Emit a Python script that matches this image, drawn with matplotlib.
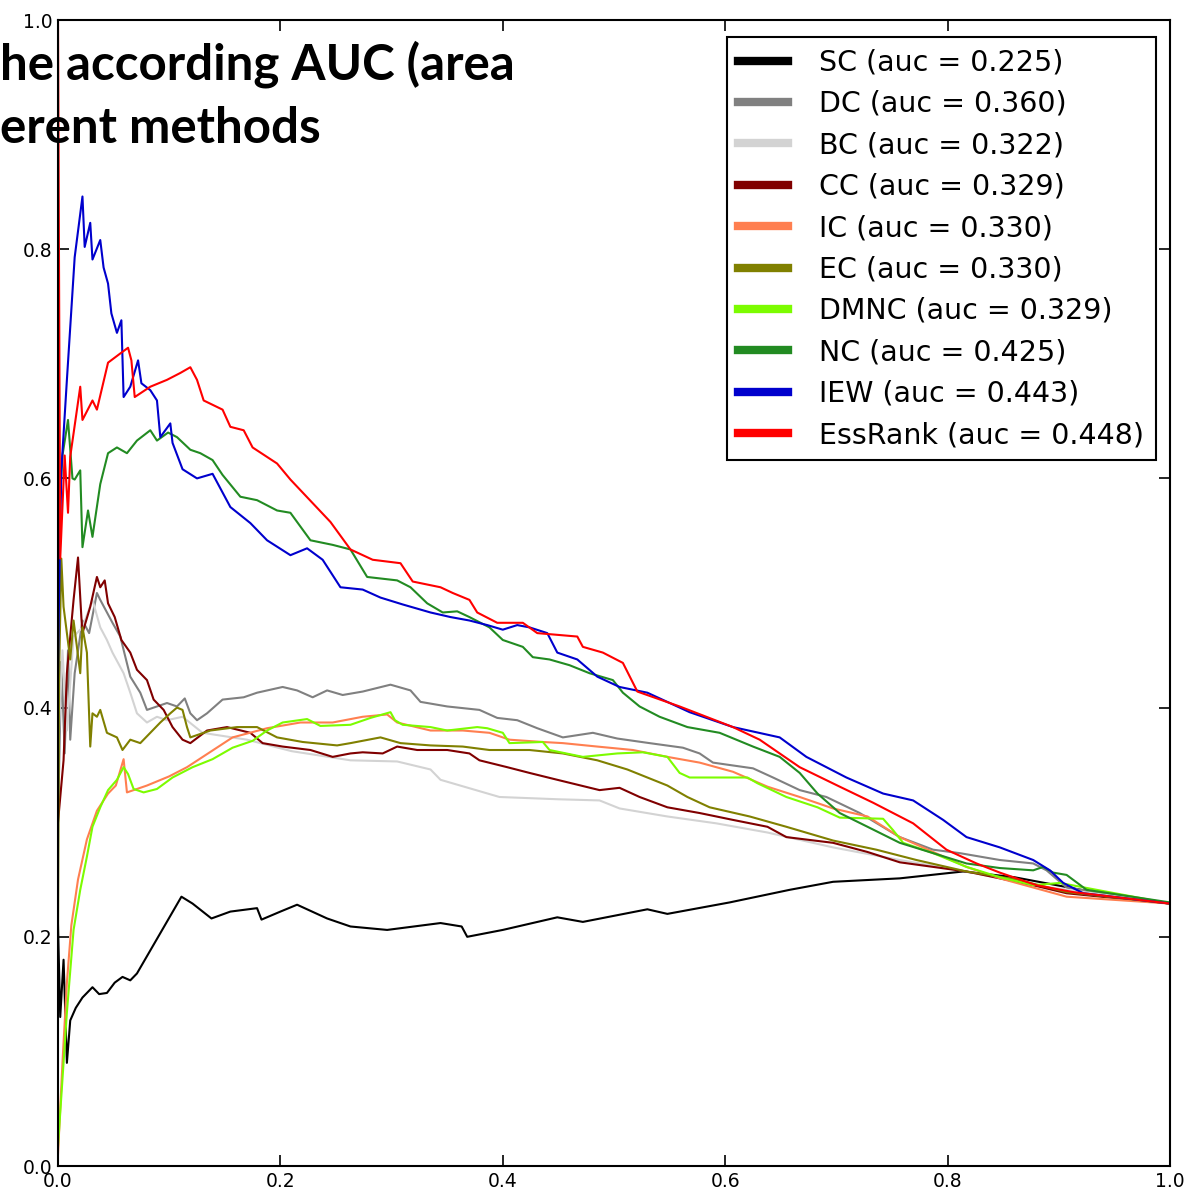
import matplotlib
matplotlib.use('Agg')
import matplotlib.pyplot as plt

plt.rcParams['font.family'] = 'DejaVu Sans'

# precision-recall curves
sc_x = [0.0, 0.002, 0.005, 0.008, 0.011, 0.016, 0.022, 0.031, 0.037, 0.044, 0.051, 0.058, 0.065, 0.071,
        0.111, 0.121, 0.138, 0.155, 0.179, 0.183, 0.200, 0.215, 0.242, 0.263, 0.296, 0.344, 0.363, 0.368,
        0.400, 0.449, 0.472, 0.530, 0.548, 0.604, 0.658, 0.697, 0.757, 0.814, 0.860, 0.920, 1.0]
sc_y = [0.21, 0.13, 0.18, 0.09, 0.127, 0.138, 0.147, 0.156, 0.150, 0.151, 0.160, 0.165, 0.162, 0.168,
        0.235, 0.229, 0.216, 0.222, 0.225, 0.215, 0.222, 0.228, 0.216, 0.209, 0.206, 0.212, 0.209, 0.200,
        0.206, 0.217, 0.213, 0.224, 0.220, 0.230, 0.241, 0.248, 0.251, 0.257, 0.252, 0.241, 0.229]

dc_x = [0.0, 0.003, 0.006, 0.009, 0.011, 0.015, 0.022, 0.028, 0.035, 0.038, 0.049, 0.056, 0.065, 0.074,
        0.080, 0.089, 0.098, 0.107, 0.114, 0.119, 0.125, 0.134, 0.148, 0.167, 0.179, 0.202, 0.215, 0.229,
        0.242, 0.256, 0.274, 0.299, 0.317, 0.326, 0.350, 0.379, 0.395, 0.413, 0.431, 0.454, 0.481, 0.503,
        0.532, 0.562, 0.577, 0.589, 0.625, 0.643, 0.667, 0.691, 0.721, 0.757, 0.787, 0.811, 0.847, 0.877,
        0.889, 0.907, 1.0]
dc_y = [0.30, 0.44, 0.36, 0.45, 0.372, 0.43, 0.476, 0.465, 0.500, 0.494, 0.474, 0.462, 0.427, 0.413,
        0.398, 0.401, 0.404, 0.401, 0.408, 0.395, 0.389, 0.395, 0.407, 0.409, 0.413, 0.418, 0.415, 0.409,
        0.415, 0.411, 0.414, 0.420, 0.415, 0.405, 0.401, 0.398, 0.391, 0.389, 0.382, 0.374, 0.378, 0.373,
        0.369, 0.365, 0.360, 0.352, 0.347, 0.339, 0.328, 0.322, 0.308, 0.287, 0.276, 0.273, 0.267, 0.264,
        0.258, 0.243, 0.229]

bc_x = [0.0, 0.004, 0.008, 0.014, 0.022, 0.031, 0.038, 0.044, 0.049, 0.059, 0.065, 0.071, 0.080, 0.089,
        0.098, 0.112, 0.130, 0.170, 0.210, 0.263, 0.305, 0.335, 0.344, 0.397, 0.450, 0.487, 0.505, 0.548,
        0.592, 0.638, 0.697, 0.757, 0.817, 0.877, 1.0]
bc_y = [0.36, 0.45, 0.38, 0.462, 0.470, 0.494, 0.470, 0.459, 0.448, 0.430, 0.413, 0.395, 0.387, 0.392,
        0.389, 0.392, 0.378, 0.372, 0.362, 0.354, 0.353, 0.346, 0.337, 0.322, 0.320, 0.319, 0.312, 0.305,
        0.299, 0.291, 0.278, 0.267, 0.257, 0.245, 0.229]

cc_x = [0.0, 0.005, 0.008, 0.014, 0.018, 0.021, 0.022, 0.029, 0.035, 0.038, 0.042, 0.045, 0.051, 0.057,
        0.065, 0.071, 0.080, 0.086, 0.095, 0.103, 0.112, 0.119, 0.134, 0.152, 0.173, 0.184, 0.202, 0.227,
        0.247, 0.263, 0.274, 0.292, 0.305, 0.323, 0.350, 0.370, 0.379, 0.404, 0.424, 0.449, 0.487, 0.505,
        0.523, 0.548, 0.577, 0.607, 0.638, 0.655, 0.697, 0.728, 0.757, 0.787, 0.817, 0.847, 0.877, 0.907, 1.0]
cc_y = [0.30, 0.354, 0.430, 0.494, 0.531, 0.479, 0.465, 0.488, 0.514, 0.505, 0.511, 0.491, 0.479, 0.459,
        0.448, 0.433, 0.424, 0.407, 0.398, 0.383, 0.372, 0.369, 0.380, 0.383, 0.378, 0.369, 0.366, 0.363,
        0.357, 0.360, 0.361, 0.360, 0.366, 0.363, 0.363, 0.360, 0.354, 0.348, 0.343, 0.337, 0.328, 0.330,
        0.322, 0.313, 0.308, 0.302, 0.296, 0.287, 0.282, 0.274, 0.265, 0.261, 0.257, 0.251, 0.245, 0.238, 0.229]

ic_x = [0.0, 0.004, 0.008, 0.012, 0.018, 0.026, 0.035, 0.045, 0.052, 0.059, 0.062, 0.080, 0.100, 0.116,
        0.157, 0.188, 0.218, 0.247, 0.274, 0.296, 0.305, 0.335, 0.364, 0.388, 0.406, 0.436, 0.454, 0.485,
        0.517, 0.548, 0.577, 0.607, 0.638, 0.667, 0.697, 0.728, 0.757, 0.787, 0.817, 0.847, 0.877, 0.907, 1.0]
ic_y = [0.01, 0.09, 0.16, 0.21, 0.25, 0.285, 0.31, 0.325, 0.332, 0.355, 0.326, 0.332, 0.340, 0.348,
        0.374, 0.382, 0.387, 0.387, 0.392, 0.394, 0.387, 0.380, 0.380, 0.378, 0.372, 0.370, 0.369, 0.366,
        0.363, 0.357, 0.352, 0.344, 0.331, 0.322, 0.312, 0.305, 0.287, 0.274, 0.261, 0.251, 0.243, 0.235, 0.229]

ec_x = [0.0, 0.001, 0.003, 0.005, 0.011, 0.014, 0.017, 0.020, 0.022, 0.026, 0.029, 0.031, 0.035, 0.038,
        0.044, 0.053, 0.058, 0.065, 0.074, 0.083, 0.092, 0.101, 0.107, 0.112, 0.116, 0.119, 0.137, 0.161,
        0.179, 0.197, 0.220, 0.251, 0.263, 0.290, 0.308, 0.335, 0.364, 0.388, 0.424, 0.454, 0.485, 0.512,
        0.548, 0.566, 0.586, 0.622, 0.655, 0.697, 0.736, 0.772, 0.817, 0.862, 0.907, 1.0]
ec_y = [0.20, 0.43, 0.53, 0.488, 0.442, 0.476, 0.453, 0.430, 0.470, 0.448, 0.366, 0.395, 0.392, 0.398,
        0.378, 0.374, 0.363, 0.372, 0.369, 0.378, 0.387, 0.395, 0.400, 0.398, 0.383, 0.374, 0.380, 0.383,
        0.383, 0.374, 0.370, 0.367, 0.369, 0.374, 0.369, 0.367, 0.366, 0.363, 0.363, 0.360, 0.354, 0.346,
        0.332, 0.322, 0.313, 0.305, 0.296, 0.284, 0.276, 0.267, 0.257, 0.250, 0.239, 0.229]

dmnc_x = [0.0, 0.008, 0.014, 0.020, 0.026, 0.031, 0.038, 0.045, 0.053, 0.059, 0.063, 0.068, 0.077, 0.089,
          0.103, 0.121, 0.139, 0.157, 0.175, 0.188, 0.202, 0.224, 0.236, 0.263, 0.281, 0.299, 0.303, 0.310,
          0.335, 0.350, 0.377, 0.386, 0.400, 0.406, 0.436, 0.442, 0.472, 0.503, 0.526, 0.548, 0.559, 0.568,
          0.620, 0.629, 0.655, 0.683, 0.703, 0.742, 0.751, 0.760, 0.787, 0.817, 0.847, 0.877, 0.901, 1.0]
dmnc_y = [0.017, 0.134, 0.206, 0.241, 0.270, 0.296, 0.313, 0.328, 0.337, 0.348, 0.342, 0.329, 0.326, 0.329,
          0.339, 0.348, 0.355, 0.365, 0.371, 0.380, 0.387, 0.390, 0.384, 0.385, 0.391, 0.396, 0.389, 0.385,
          0.383, 0.380, 0.383, 0.382, 0.378, 0.369, 0.370, 0.363, 0.357, 0.360, 0.361, 0.357, 0.343, 0.339,
          0.339, 0.334, 0.322, 0.313, 0.304, 0.303, 0.293, 0.282, 0.273, 0.261, 0.252, 0.245, 0.247, 0.229]

nc_x = [0.0, 0.004, 0.009, 0.013, 0.015, 0.020, 0.022, 0.027, 0.031, 0.038, 0.045, 0.053, 0.062, 0.071,
        0.083, 0.089, 0.099, 0.107, 0.119, 0.128, 0.139, 0.148, 0.164, 0.179, 0.197, 0.209, 0.227, 0.247,
        0.263, 0.278, 0.305, 0.317, 0.332, 0.346, 0.359, 0.370, 0.388, 0.400, 0.418, 0.427, 0.442, 0.460,
        0.478, 0.499, 0.508, 0.523, 0.541, 0.566, 0.595, 0.625, 0.649, 0.667, 0.683, 0.703, 0.728, 0.757,
        0.787, 0.817, 0.847, 0.877, 0.886, 0.895, 0.907, 0.925, 1.0]
nc_y = [0.55, 0.62, 0.651, 0.60, 0.599, 0.607, 0.540, 0.572, 0.549, 0.595, 0.622, 0.627, 0.622, 0.633,
        0.642, 0.633, 0.640, 0.636, 0.625, 0.622, 0.616, 0.603, 0.584, 0.581, 0.572, 0.570, 0.546, 0.542,
        0.538, 0.514, 0.511, 0.505, 0.491, 0.483, 0.484, 0.479, 0.470, 0.459, 0.453, 0.444, 0.442, 0.437,
        0.430, 0.424, 0.413, 0.401, 0.392, 0.383, 0.378, 0.366, 0.357, 0.343, 0.325, 0.308, 0.296, 0.282,
        0.273, 0.264, 0.260, 0.258, 0.261, 0.256, 0.254, 0.241, 0.230]

iew_x = [0.0, 0.001, 0.003, 0.008, 0.015, 0.022, 0.024, 0.029, 0.031, 0.038, 0.041, 0.045, 0.048, 0.053,
         0.057, 0.059, 0.065, 0.072, 0.075, 0.083, 0.089, 0.092, 0.101, 0.103, 0.112, 0.125, 0.139, 0.155,
         0.173, 0.188, 0.209, 0.224, 0.238, 0.254, 0.274, 0.290, 0.310, 0.335, 0.353, 0.370, 0.386, 0.400,
         0.413, 0.424, 0.440, 0.449, 0.467, 0.485, 0.505, 0.530, 0.568, 0.607, 0.649, 0.673, 0.709, 0.742,
         0.769, 0.796, 0.817, 0.847, 0.877, 0.892, 0.904, 0.922, 1.0]
iew_y = [0.43, 0.50, 0.607, 0.686, 0.793, 0.846, 0.802, 0.823, 0.791, 0.808, 0.784, 0.770, 0.744, 0.727,
         0.738, 0.671, 0.680, 0.703, 0.683, 0.677, 0.668, 0.636, 0.648, 0.631, 0.608, 0.600, 0.604, 0.575,
         0.561, 0.546, 0.533, 0.539, 0.529, 0.505, 0.503, 0.496, 0.490, 0.483, 0.479, 0.476, 0.472, 0.468,
         0.472, 0.470, 0.465, 0.448, 0.442, 0.427, 0.418, 0.413, 0.396, 0.383, 0.374, 0.357, 0.339, 0.325,
         0.319, 0.302, 0.287, 0.278, 0.267, 0.258, 0.247, 0.238, 0.229]

ess_x = [0.0, 0.002, 0.006, 0.009, 0.011, 0.020, 0.022, 0.031, 0.035, 0.045, 0.056, 0.063, 0.066, 0.069,
         0.083, 0.098, 0.110, 0.119, 0.125, 0.131, 0.148, 0.155, 0.167, 0.175, 0.197, 0.209, 0.245, 0.263,
         0.283, 0.308, 0.319, 0.344, 0.355, 0.370, 0.377, 0.395, 0.418, 0.431, 0.467, 0.472, 0.490, 0.508,
         0.521, 0.559, 0.607, 0.631, 0.667, 0.703, 0.733, 0.769, 0.799, 0.826, 0.847, 0.880, 0.913, 1.0]
ess_y = [1.0, 0.53, 0.62, 0.57, 0.619, 0.680, 0.651, 0.668, 0.660, 0.701, 0.709, 0.714, 0.703, 0.671,
         0.680, 0.686, 0.692, 0.697, 0.686, 0.668, 0.660, 0.645, 0.642, 0.627, 0.613, 0.599, 0.562, 0.538,
         0.529, 0.526, 0.510, 0.505, 0.500, 0.494, 0.483, 0.474, 0.474, 0.465, 0.462, 0.453, 0.448, 0.439,
         0.414, 0.401, 0.383, 0.372, 0.348, 0.331, 0.317, 0.299, 0.276, 0.264, 0.256, 0.245, 0.239, 0.229]

methods = ['SC', 'DC', 'BC', 'CC', 'IC', 'EC', 'DMNC', 'NC', 'IEW', 'EssRank']
auc = [0.225, 0.360, 0.322, 0.329, 0.330, 0.330, 0.329, 0.425, 0.443, 0.448]
xs = [sc_x, dc_x, bc_x, cc_x, ic_x, ec_x, dmnc_x, nc_x, iew_x, ess_x]
ys = [sc_y, dc_y, bc_y, cc_y, ic_y, ec_y, dmnc_y, nc_y, iew_y, ess_y]
colors = ['black', 'gray', 'lightgray', 'maroon', 'coral', 'olive', 'lawngreen',
          'forestgreen', 'mediumblue', 'red']

fig = plt.figure(figsize=(11.93, 11.99), dpi=100)
ax = fig.add_axes([58 / 1193, 33 / 1199, 1112 / 1193, 1146 / 1199])

for name, a, x, y, c in zip(methods, auc, xs, ys, colors):
    ax.plot(x, y, color=c, lw=1.5, label=f'{name} (auc = {a:.3f})')

ax.set_xlim(0, 1)
ax.set_ylim(0, 1)
ax.set_xticks([0.0, 0.2, 0.4, 0.6, 0.8, 1.0])
ax.set_yticks([0.0, 0.2, 0.4, 0.6, 0.8, 1.0])
ax.tick_params(direction='in', length=8, width=1.2, top=True, right=True, labelsize=13.5, pad=4)
for s in ax.spines.values():
    s.set_linewidth(1.5)

leg = ax.legend(loc='upper right', bbox_to_anchor=(0.987, 0.985), borderaxespad=0,
                fontsize=20.5, handlelength=1.75, handletextpad=1.1, fancybox=False,
                framealpha=1, edgecolor='black', labelspacing=0.47, borderpad=0.4)
leg.get_frame().set_linewidth(1.5)
for h in leg.get_lines():
    h.set_linewidth(6)

# cut-off caption text lying over the plot
fig.text(0.0, 1 - 80 / 1199, 'he according AUC (area', fontsize=35.5, fontweight='bold',
         family='Lato', ha='left', va='baseline', zorder=10)
fig.text(0.0, 1 - 143 / 1199, 'erent methods', fontsize=35.5, fontweight='bold',
         family='Lato', ha='left', va='baseline', zorder=10)

fig.savefig('out.png', dpi=100)
